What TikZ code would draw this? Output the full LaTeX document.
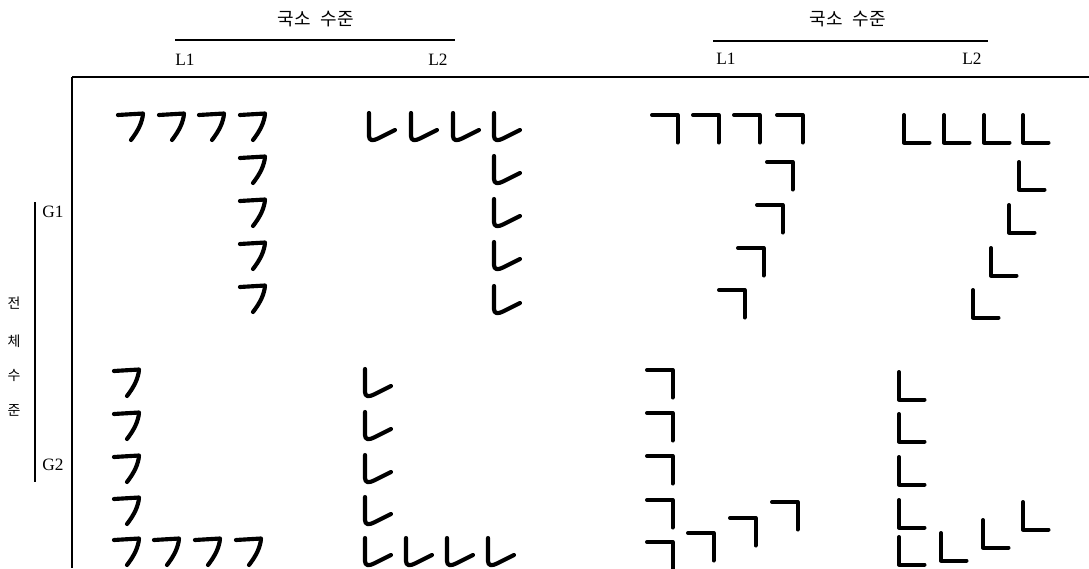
\documentclass[tikz,border=0pt]{standalone}
\usepackage{fontspec}
\setmainfont{Liberation Serif}
\newfontfamily\kr{Noto Sans CJK KR}
\begin{document}
\begin{tikzpicture}[x=0.75pt,y=-0.75pt,
  hand/.style={line width=3.1pt,line cap=round,line join=round},
  sq/.style={line width=3pt,line cap=round,line join=round},
  rule/.style={line width=1.2pt},
  head/.style={font=\kr\fontsize{13.5}{15}\selectfont,inner sep=0pt},
  lab/.style={font=\fontsize{13}{15}\selectfont,inner sep=0pt},
  side/.style={font=\kr\fontsize{10.5}{12}\selectfont,inner sep=0pt},
  hk/.pic={\draw[hand] (0,2) -- (25,0.5) .. controls (24.5,9) and (20,18) .. (13,27);},
  hn/.pic={\draw[hand] (1,0) -- (1,23) .. controls (1,28) and (5,28) .. (10,25.5) -- (27,17);},
  sk/.pic={\draw[sq] (0,0) -- (25.5,0) -- (25.5,27.5);},
  sn/.pic={\draw[sq] (0,0) -- (0,27.5) -- (25.5,27.5);}
]
\useasboundingbox (0,0) rectangle (1089,568);
\clip (0,0) rectangle (1089,568);

% headers
\node[head] (hA) at (316,19) {국소\hspace{0.55em}수준};
\node[head] (hB) at (848,19) {국소\hspace{0.55em}수준};
\draw[rule] (175,40) -- (455,40);
\draw[rule] (713,41) -- (988,41);
\node[lab] (L1a) at (185,60) {L1};
\node[lab] (L2a) at (438,60) {L2};
\node[lab] (L1b) at (726,59) {L1};
\node[lab] (L2b) at (972,59) {L2};

% frame
\draw[line width=1.5pt] (72,77) -- (1089,77);
\draw[line width=1.5pt] (72,77) -- (72,568);

% left axis
\draw[rule] (35,202) -- (35,482);
\node[lab] (G1) at (53,212) {G1};
\node[lab] (G2) at (53,465) {G2};
\node[side] (s1) at (14,303) {전};
\node[side] (s2) at (14,341) {체};
\node[side] (s3) at (14,375) {수};
\node[side] (s4) at (14,410) {준};

% G1, L1 (handwritten)
\foreach \x in {118,159,199,240} \pic at (\x,113) {hk};
\foreach \y in {156,199,242,285} \pic at (240,\y) {hk};
% G1, L2
\foreach \x in {368,410,452,493} \pic at (\x,113) {hn};
\foreach \y in {156,199,242,286} \pic at (493,\y) {hn};
% G2, L1
\foreach \y in {369,412,455,497,538} \pic at (114,\y) {hk};
\foreach \x in {154,195,236} \pic at (\x,538) {hk};
% G2, L2
\foreach \y in {369,412,455,497,538} \pic at (364,\y) {hn};
\foreach \x in {405,446,487} \pic at (\x,538) {hn};

% right: G1, L1 (square)
\foreach \x in {652,693,734,777} \pic at (\x,115) {sk};
\foreach \x/\y in {767/162,757/205,738/248,719/290} \pic at (\x,\y) {sk};
% G1, L2
\foreach \x in {904,944,984,1023} \pic at (\x,115) {sn};
\foreach \x/\y in {1019/162,1009/205,991/248,973/290} \pic at (\x,\y) {sn};
% G2, L1
\foreach \y in {370,413,456,500,542} \pic at (647,\y) {sk};
\foreach \x/\y in {688/533,730/518,772/502} \pic at (\x,\y) {sk};
% G2, L2
\foreach \y in {372,414,457,500,537} \pic at (899,\y) {sn};
\foreach \x/\y in {941/533,983/520,1023/502} \pic at (\x,\y) {sn};
\end{tikzpicture}
\end{document}
